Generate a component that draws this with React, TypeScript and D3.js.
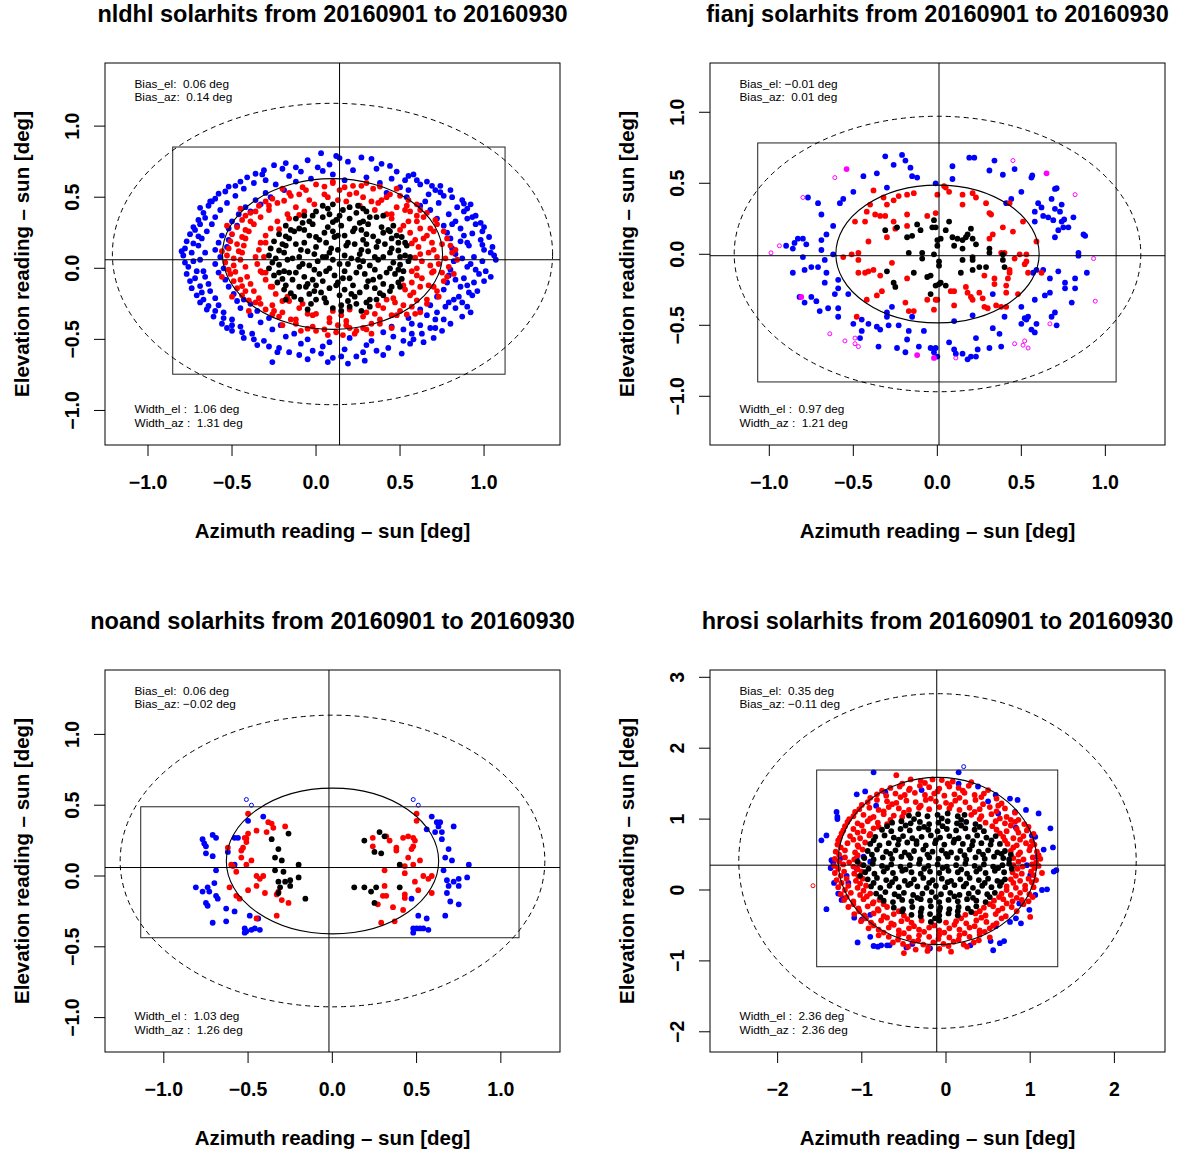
import React from 'react';
import * as d3 from 'd3';

type Pt = [number, number];

const stationNames = ['nldhl', 'fianj', 'noand', 'hrosi'];
const dateFrom = '20160901';
const dateTo = '20160930';
const biasEl = [0.06, -0.01, 0.06, 0.35];
const biasAz = [0.14, 0.01, -0.02, -0.11];
const widthEl = [1.06, 0.97, 1.03, 2.36];
const widthAz = [1.31, 1.21, 1.26, 2.36];
const xDomains: Pt[] = [[-1.256, 1.452], [-1.353, 1.355], [-1.349, 1.351], [-2.803, 2.601]];
const yDomains: Pt[] = [[-1.243, 1.444], [-1.343, 1.347], [-1.243, 1.455], [-2.285, 3.103]];
const scanAz: Pt[] = [[-0.853, 1.125], [-1.069, 1.064], [-1.137, 1.108], [-1.536, 1.327]];
const scanEl: Pt[] = [[-0.745, 0.853], [-0.899, 0.784], [-0.436, 0.489], [-1.082, 1.692]];
const xTicks = [[-1, -0.5, 0, 0.5, 1], [-1, -0.5, 0, 0.5, 1], [-1, -0.5, 0, 0.5, 1], [-2, -1, 0, 1, 2]];
const yTicks = [[-1, -0.5, 0, 0.5, 1], [-1, -0.5, 0, 0.5, 1], [-1, -0.5, 0, 0.5, 1], [-2, -1, 0, 1, 2, 3]];
const tickDigits = [1, 1, 1, 0];
const xLabel = 'Azimuth reading \u2013 sun [deg]';
const yLabel = 'Elevation reading \u2013 sun [deg]';

// ---------- nldhl ----------
const nldhlBlue: Pt[] = [
[0.03,0.81],[0.27,0.78],[0.12,0.79],
[-0.18,0.74],[-0.05,0.76],[0.08,0.73],[0.19,0.75],[0.33,0.77],[0.44,0.72],[-0.12,0.71],
[-0.31,0.69],[-0.2,0.7],[-0.09,0.68],[0.01,0.71],[0.22,0.69],[0.36,0.7],[0.48,0.68],[0.58,0.66],
[-0.41,0.64],[-0.3,0.62],[-0.16,0.65],[-0.03,0.63],[0.1,0.66],[0.17,0.62],[0.3,0.64],[0.45,0.63],[0.55,0.65],[0.66,0.61],
[-0.48,0.58],[-0.37,0.6],[-0.24,0.59],[-0.12,0.61],[0.38,0.6],[0.5,0.57],[0.62,0.59],[0.74,0.58],
[-0.54,0.54],[-0.43,0.56],[-0.3,0.53],[-0.19,0.55],[0.42,0.53],[0.55,0.55],[0.67,0.52],[0.8,0.55],
[-0.6,0.49],[-0.48,0.51],[-0.36,0.48],[-0.27,0.5],[0.54,0.5],[0.65,0.47],[0.76,0.51],[0.87,0.48],
[-0.64,0.44],[-0.53,0.46],[-0.42,0.43],[-0.33,0.45],[0.62,0.44],[0.73,0.46],[0.84,0.43],[0.92,0.45],
[-0.67,0.39],[-0.57,0.41],[-0.46,0.38],[-0.39,0.4],[0.68,0.41],[0.79,0.38],[0.88,0.4],[0.95,0.37],
[-0.7,0.34],[-0.6,0.36],[-0.5,0.33],[0.72,0.35],[0.83,0.33],[0.93,0.36],[0.98,0.32],
[-0.73,0.29],[-0.62,0.31],[-0.52,0.28],[-0.47,0.3],[0.76,0.3],[0.86,0.28],[0.95,0.31],
[-0.75,0.24],[-0.65,0.26],[-0.56,0.23],[0.78,0.25],[0.88,0.23],[0.99,0.26],[1.03,0.22],
[-0.77,0.19],[-0.68,0.21],[-0.58,0.18],[-0.52,0.2],[0.8,0.21],[0.9,0.18],[0.98,0.2],
[-0.78,0.14],[-0.7,0.16],[-0.6,0.13],[-0.53,0.15],[0.81,0.14],[0.91,0.16],[1.0,0.13],[1.05,0.15],
[-0.79,0.09],[-0.66,0.11],[-0.57,0.08],[0.83,0.1],[0.94,0.08],[1.04,0.11],
[-0.78,0.04],[-0.69,0.06],[-0.6,0.03],[0.82,0.05],[0.92,0.03],[1.07,0.06],[0.99,0.05],
[-0.76,0.01],[-0.67,-0.02],[-0.55,0.0],[0.8,-0.01],[0.9,0.01],[1.01,-0.02],
[-0.77,-0.04],[-0.66,-0.06],[-0.58,-0.03],[0.79,-0.05],[0.88,-0.07],[0.97,-0.04],[1.04,-0.06],
[-0.75,-0.09],[-0.64,-0.11],[-0.54,-0.08],[0.78,-0.1],[0.9,-0.12],[1.0,-0.09],
[-0.74,-0.14],[-0.63,-0.16],[-0.52,-0.13],[0.76,-0.15],[0.86,-0.13],[0.96,-0.16],
[-0.71,-0.19],[-0.6,-0.21],[-0.49,-0.18],[-0.43,-0.22],[0.72,-0.2],[0.82,-0.22],[0.93,-0.19],
[-0.69,-0.24],[-0.58,-0.26],[-0.47,-0.23],[-0.39,-0.25],[0.68,-0.26],[0.79,-0.24],[0.9,-0.27],
[-0.65,-0.29],[-0.55,-0.31],[-0.45,-0.28],[-0.35,-0.3],[0.62,-0.29],[0.72,-0.31],[0.83,-0.28],[0.92,-0.31],
[-0.61,-0.34],[-0.5,-0.36],[-0.39,-0.33],[-0.28,-0.35],[0.55,-0.35],[0.66,-0.33],[0.76,-0.36],[0.87,-0.34],
[-0.56,-0.39],[-0.45,-0.41],[-0.33,-0.38],[-0.21,-0.4],[0.45,-0.41],[0.57,-0.39],[0.68,-0.42],[0.8,-0.39],
[-0.5,-0.44],[-0.38,-0.46],[-0.26,-0.43],[-0.13,-0.46],[0.4,-0.45],[0.52,-0.43],[0.63,-0.46],[0.75,-0.44],
[-0.43,-0.49],[-0.31,-0.51],[-0.18,-0.48],[-0.05,-0.5],[0.08,-0.52],[0.2,-0.49],[0.33,-0.51],[0.46,-0.48],[0.58,-0.5],[0.7,-0.49],
[-0.35,-0.54],[-0.22,-0.56],[-0.09,-0.53],[0.04,-0.55],[0.17,-0.57],[0.3,-0.54],[0.43,-0.56],[0.56,-0.53],
[-0.23,-0.59],[-0.1,-0.61],[0.03,-0.6],[0.15,-0.62],[0.28,-0.59],[0.4,-0.61],[0.51,-0.6],
[-0.05,-0.64],[0.07,-0.66],[0.19,-0.67],[0.29,-0.65],[-0.26,-0.66],
[-0.63,0.47],[0.9,0.42],[-0.72,0.27],[1.0,0.29],[-0.8,0.12],[1.06,0.09],[-0.72,-0.07],[0.94,-0.1],
[-0.67,-0.22],[0.87,-0.24],[-0.53,-0.42],[0.71,-0.42],[-0.32,0.66],[0.6,0.62],[-0.45,0.61],[0.71,0.55],
[-0.25,0.725],[0.14,0.775],[0.39,0.735],[-0.36,0.665],[0.04,0.685],[0.53,0.62],
[-0.52,0.575],[0.69,0.58],[-0.58,0.525],[0.74,0.535],[-0.62,0.47],[0.81,0.5],
[-0.69,0.425],[0.88,0.455],[-0.66,0.355],[0.9,0.35],[-0.69,0.31],[0.81,0.31],
[-0.7,0.225],[0.93,0.245],[-0.73,0.175],[0.86,0.19],[-0.74,0.11],[0.99,0.165],
[-0.73,0.05],[0.87,0.07],[-0.71,-0.02],[0.95,-0.01],[-0.69,-0.125],[0.83,-0.08],
[-0.68,-0.17],[0.91,-0.17],[-0.64,-0.265],[0.85,-0.2],[-0.6,-0.3],[0.77,-0.27],
[-0.55,-0.35],[0.71,-0.36],[-0.5,-0.4],[0.62,-0.4],[-0.44,-0.45],[0.57,-0.46],
[-0.37,-0.5],[0.52,-0.51],[-0.28,-0.55],[0.64,-0.52],[-0.16,-0.59],[0.36,-0.58],[-0.02,-0.58],[0.1,-0.63],[0.24,-0.62]
];
const nldhlRed: Pt[] = [
[0.0,0.59],[0.1,0.6],[0.22,0.58],[0.3,0.6],
[-0.16,0.53],[-0.06,0.55],[0.05,0.52],[0.14,0.55],[0.24,0.53],[0.34,0.56],[0.44,0.52],
[-0.26,0.49],[-0.15,0.51],[-0.04,0.48],[0.07,0.5],[0.18,0.47],[0.28,0.5],[0.39,0.48],[0.5,0.51],
[-0.34,0.44],[-0.23,0.46],[-0.12,0.43],[-0.01,0.45],[0.26,0.44],[0.37,0.46],[0.48,0.43],[0.6,0.45],
[-0.39,0.39],[-0.28,0.41],[-0.17,0.38],[-0.07,0.4],[0.35,0.41],[0.45,0.38],[0.56,0.4],[0.66,0.39],
[-0.44,0.34],[-0.33,0.36],[-0.23,0.33],[-0.16,0.35],[0.45,0.35],[0.55,0.33],[0.64,0.36],[0.71,0.34],
[-0.47,0.29],[-0.37,0.31],[-0.27,0.28],[0.52,0.3],[0.62,0.28],[0.72,0.31],
[-0.5,0.24],[-0.4,0.26],[-0.3,0.23],[0.56,0.25],[0.66,0.23],[0.76,0.26],
[-0.51,0.19],[-0.42,0.21],[-0.33,0.18],[0.59,0.2],[0.69,0.18],[0.78,0.21],
[-0.52,0.14],[-0.43,0.16],[-0.34,0.13],[0.61,0.15],[0.7,0.13],[0.8,0.16],
[-0.53,0.09],[-0.44,0.11],[-0.36,0.08],[0.62,0.1],[0.72,0.08],[0.81,0.11],
[-0.54,0.04],[-0.45,0.06],[-0.35,0.03],[0.63,0.05],[0.73,0.03],[0.84,0.06],
[-0.52,-0.01],[-0.42,0.01],[-0.33,-0.02],[0.6,0.0],[0.7,-0.02],[0.79,0.01],
[-0.51,-0.04],[-0.41,-0.06],[-0.32,-0.03],[0.6,-0.05],[0.69,-0.03],[0.78,-0.06],
[-0.49,-0.09],[-0.39,-0.11],[-0.3,-0.08],[0.57,-0.1],[0.67,-0.12],[0.76,-0.09],
[-0.47,-0.14],[-0.37,-0.16],[-0.27,-0.13],[0.53,-0.15],[0.62,-0.13],[0.72,-0.16],
[-0.44,-0.19],[-0.34,-0.21],[-0.24,-0.18],[-0.17,-0.2],[0.46,-0.21],[0.56,-0.19],[0.66,-0.22],
[-0.36,-0.24],[-0.26,-0.26],[-0.16,-0.23],[-0.08,-0.25],[0.37,-0.26],[0.47,-0.24],[0.57,-0.27],[0.66,-0.25],
[-0.3,-0.29],[-0.2,-0.31],[-0.1,-0.28],[0.0,-0.32],[0.1,-0.3],[0.2,-0.29],[0.3,-0.31],[0.4,-0.28],[0.5,-0.3],[0.59,-0.32],
[-0.22,-0.34],[-0.12,-0.36],[-0.02,-0.33],[0.08,-0.35],[0.18,-0.37],[0.28,-0.34],[0.38,-0.36],[0.48,-0.33],
[-0.12,-0.39],[-0.02,-0.41],[0.08,-0.38],[0.18,-0.4],[0.28,-0.42],[0.38,-0.39],
[0.0,-0.44],[0.12,-0.45],[0.24,-0.44],[0.33,-0.46],
[0.05,0.575],[0.17,0.57],[0.27,0.58],[-0.08,0.57],[0.38,0.575],
[-0.3,0.47],[-0.19,0.475],[0.13,0.48],[0.33,0.47],[0.55,0.48],
[-0.42,0.37],[-0.1,0.375],[0.42,0.38],[0.6,0.37],
[-0.42,0.27],[-0.22,0.275],[0.5,0.27],[0.68,0.28],
[-0.47,0.17],[-0.3,0.18],[0.57,0.175],[0.75,0.17],
[-0.49,0.07],[-0.31,0.08],[0.59,0.075],[0.77,0.07],
[-0.48,-0.025],[-0.3,-0.03],[0.57,-0.02],[0.75,-0.03],
[-0.44,-0.125],[-0.26,-0.13],[0.52,-0.12],[0.7,-0.13],
[-0.4,-0.225],[-0.2,-0.23],[0.42,-0.22],[0.6,-0.225],
[-0.26,-0.325],[-0.05,-0.32],[0.15,-0.33],[0.35,-0.32],[0.54,-0.325],
[-0.05,-0.425],[0.05,-0.43],[0.2,-0.42],[0.3,-0.43],
[-0.45,0.42],[0.53,0.41],[-0.53,0.3],[0.7,0.26],[-0.56,0.12],[0.83,0.13],[-0.56,-0.06],[0.82,-0.04],
[-0.5,-0.2],[0.73,-0.2],[-0.4,-0.3],[0.62,-0.31],[-0.2,-0.4],[0.45,-0.42],[0.16,-0.47],[-0.2,0.56],[0.48,0.56],[0.1,0.61],
[-0.1,0.52],[0.2,0.52],[0.42,0.5],[-0.28,0.44],[0.54,0.44],[-0.36,0.4],[0.62,0.41],[-0.39,0.33],[0.6,0.33],[-0.44,0.22],
[0.64,0.21],[-0.46,0.12],[0.67,0.11],[-0.49,0.02],[0.68,0.02],[-0.45,-0.08],[0.63,-0.07],[-0.42,-0.16],[0.58,-0.17],[-0.33,-0.25],
[0.52,-0.26],[-0.25,-0.3],[0.45,-0.33],[-0.15,-0.36],[0.33,-0.39],[0.13,-0.4],[0.23,-0.46],[-0.09,-0.44],[0.07,-0.47]
];
const nldhlBlack: Pt[] = [
[0.1,0.45],[0.2,0.43],
[0.0,0.4],[0.08,0.38],[0.16,0.41],[0.24,0.39],[0.3,0.4],
[-0.12,0.35],[-0.04,0.33],[0.04,0.36],[0.12,0.34],[0.2,0.35],[0.28,0.33],[0.36,0.36],
[-0.18,0.3],[-0.1,0.28],[-0.02,0.31],[0.07,0.29],[0.15,0.3],[0.23,0.28],[0.31,0.31],[0.39,0.29],[0.46,0.3],
[-0.22,0.24],[-0.13,0.26],[-0.04,0.23],[0.05,0.25],[0.13,0.23],[0.22,0.26],[0.3,0.24],[0.4,0.25],[0.48,0.23],
[-0.25,0.19],[-0.16,0.21],[-0.07,0.18],[0.02,0.2],[0.11,0.22],[0.19,0.18],[0.28,0.2],[0.37,0.19],[0.45,0.21],[0.53,0.18],
[-0.27,0.14],[-0.18,0.16],[-0.09,0.13],[0.0,0.15],[0.09,0.14],[0.18,0.16],[0.27,0.13],[0.36,0.15],[0.45,0.14],[0.54,0.16],
[-0.28,0.09],[-0.19,0.11],[-0.1,0.08],[-0.01,0.1],[0.08,0.11],[0.17,0.09],[0.26,0.1],[0.35,0.08],[0.44,0.11],[0.53,0.09],
[-0.26,0.04],[-0.17,0.06],[-0.08,0.03],[0.01,0.05],[0.1,0.06],[0.19,0.03],[0.28,0.05],[0.37,0.06],[0.46,0.04],[0.55,0.05],
[-0.28,0.0],[-0.19,-0.02],[-0.1,0.01],[-0.01,-0.01],[0.08,0.0],[0.17,-0.02],[0.26,0.01],[0.35,-0.01],[0.44,0.0],[0.52,-0.02],
[-0.25,-0.05],[-0.16,-0.03],[-0.07,-0.06],[0.02,-0.04],[0.11,-0.05],[0.2,-0.07],[0.29,-0.04],[0.38,-0.06],[0.47,-0.04],
[-0.23,-0.1],[-0.14,-0.08],[-0.05,-0.11],[0.04,-0.09],[0.13,-0.1],[0.22,-0.12],[0.31,-0.09],[0.4,-0.11],[0.49,-0.1],
[-0.19,-0.15],[-0.1,-0.13],[-0.01,-0.16],[0.08,-0.14],[0.17,-0.15],[0.26,-0.17],[0.35,-0.14],[0.44,-0.16],
[-0.13,-0.2],[-0.04,-0.18],[0.05,-0.21],[0.14,-0.19],[0.23,-0.2],[0.32,-0.22],[0.4,-0.19],
[-0.03,-0.25],[0.06,-0.24],[0.15,-0.26],[0.24,-0.25],[0.32,-0.27],
[-0.08,0.32],[0.1,0.325],[0.26,0.32],
[-0.18,0.225],[0.0,0.22],[0.17,0.23],[0.34,0.225],[0.51,0.22],
[-0.22,0.125],[-0.05,0.12],[0.13,0.13],[0.31,0.12],[0.49,0.125],
[-0.22,0.025],[-0.04,0.02],[0.14,0.03],[0.32,0.02],[0.5,0.025],
[-0.2,-0.075],[-0.02,-0.08],[0.16,-0.07],[0.34,-0.08],[0.51,-0.075],
[-0.15,-0.175],[0.03,-0.17],[0.21,-0.18],[0.38,-0.175],
[0.1,-0.28],[0.2,-0.27],
[0.04,0.44],[0.25,0.44],[-0.02,0.37],[0.32,0.36],[-0.15,0.27],[0.43,0.27],[-0.2,0.17],[0.49,0.18],[-0.24,0.07],[0.5,0.08],
[-0.22,-0.03],[0.42,-0.03],[-0.18,-0.12],[0.45,-0.13],[-0.09,-0.22],[0.3,-0.24],[0.0,-0.12],[0.25,0.06],[0.06,0.08],[0.3,0.17],
[0.07,0.42],[0.28,0.42],[-0.07,0.37],[0.14,0.37],[0.4,0.37],[-0.07,0.27],[0.1,0.26],[0.27,0.27],[0.44,0.26],
[-0.12,0.17],[0.06,0.18],[0.23,0.17],[0.41,0.17],[-0.14,0.07],[0.04,0.08],[0.21,0.07],[0.4,0.08],[0.56,0.08],
[-0.12,-0.03],[0.06,-0.02],[0.24,-0.03],[0.49,-0.01],[-0.06,-0.13],[0.12,-0.12],[0.3,-0.13],[0.5,-0.13],
[-0.18,-0.22],[0.0,-0.22],[0.19,-0.23],[0.36,-0.22],[-0.05,-0.29],[0.27,-0.3],[0.15,-0.3]
];

// ---------- fianj ----------
const fianjBlue: Pt[] = [
[-0.31,0.69],[-0.21,0.7],[-0.19,0.66],[-0.26,0.63],[-0.16,0.61],[-0.15,0.55],[-0.12,0.54],[-0.36,0.57],[-0.44,0.55],[-0.3,0.47],
[-0.5,0.44],[-0.56,0.39],[-0.58,0.36],[-0.77,0.4],[-0.71,0.36],[-0.69,0.28],[-0.62,0.2],[-0.66,0.14],[-0.69,0.1],[-0.69,0.03],
[-0.9,0.06],[-0.85,0.08],[-0.83,0.11],[-0.8,0.11],[-0.78,0.07],[-0.86,0.04],[-0.8,-0.02],[-0.79,-0.11],[-0.75,-0.09],[-0.71,-0.09],
[-0.86,-0.13],[-0.62,0.0],[-0.67,-0.04],[-0.66,-0.13],[-0.67,-0.2],[-0.59,-0.18],[-0.59,-0.24],[-0.61,-0.28],[-0.53,-0.28],[-0.59,-0.38],
[-0.65,-0.38],[-0.59,-0.44],[-0.82,-0.3],[-0.79,-0.34],[-0.75,-0.3],[-0.72,-0.33],[-0.7,-0.4],[-0.5,-0.49],[-0.45,-0.46],[-0.41,-0.49],
[-0.45,-0.54],[-0.46,-0.59],[-0.36,-0.51],[-0.34,-0.53],[-0.29,-0.5],[-0.23,-0.5],[-0.3,-0.44],[-0.35,-0.65],[-0.24,-0.66],[-0.19,-0.69],
[-0.18,-0.6],[-0.17,-0.54],[-0.08,-0.54],[-0.11,-0.65],[-0.3,-0.41],[-0.15,-0.44],[-0.04,-0.66],[-0.02,-0.69],[-0.27,-0.37],
[0.19,0.68],[0.22,0.68],[0.09,0.62],[0.34,0.66],[0.31,0.59],[0.39,0.56],[0.46,0.6],[0.56,0.54],[0.565,0.555],[0.09,0.53],
[0.7,0.46],[0.71,0.465],[0.5,0.44],[0.44,0.39],[0.6,0.36],[0.62,0.33],[0.58,0.3],[0.58,0.23],[0.63,0.27],[0.66,0.26],
[0.69,0.24],[0.68,0.39],[0.7,0.32],[0.74,0.35],[0.73,0.3],[0.74,0.23],[0.755,0.245],[0.81,0.26],[0.72,0.17],[0.75,0.19],
[0.78,0.19],[0.7,0.12],[0.87,0.14],[0.88,0.13],[0.84,0.01],[0.84,-0.01],[0.89,-0.13],[0.57,-0.13],[0.63,-0.11],[0.67,-0.17],
[0.72,-0.12],[0.76,-0.2],[0.76,-0.24],[0.82,-0.17],[0.82,-0.24],[0.8,-0.34],[0.64,-0.29],[0.67,-0.27],[0.58,-0.32],[0.5,-0.37],
[0.54,-0.44],[0.53,-0.46],[0.5,-0.49],[0.52,-0.45],[0.56,-0.53],[0.58,-0.55],[0.59,-0.49],[0.68,-0.44],[0.7,-0.41],[0.71,-0.5],
[0.4,-0.44],[0.33,-0.52],[0.37,-0.56],[0.33,-0.28],[0.23,-0.59],[0.24,-0.67],[0.23,-0.72],[0.2,-0.72],[0.18,-0.74],[0.15,-0.7],
[0.1,-0.67],[0.11,-0.7],[0.07,-0.62],[0.31,-0.66],[0.38,-0.65],[0.21,-0.43],[0.1,-0.47],[-0.01,0.5],[0.41,0.36],[0.59,-0.11],
[-0.01,-0.66],[0.0,-0.72]
];
const fianjRed: Pt[] = [
[-0.38,0.45],[-0.4,0.35],[-0.32,0.4],[-0.23,0.41],[-0.18,0.42],[-0.14,0.43],[-0.3,0.35],[-0.26,0.38],[-0.42,0.3],[-0.37,0.28],
[-0.34,0.27],[-0.31,0.27],[-0.43,0.23],[-0.49,0.23],[-0.26,0.23],[-0.25,0.18],[-0.3,0.12],[-0.41,0.09],[-0.18,0.28],[-0.06,0.27],
[-0.18,0.2],[-0.01,0.29],[-0.56,-0.02],[-0.51,0.0],[-0.47,0.01],[-0.47,-0.04],[-0.47,-0.13],[-0.43,-0.13],[-0.41,-0.12],[-0.38,-0.11],
[-0.34,-0.15],[-0.27,-0.06],[-0.18,-0.17],[-0.33,-0.26],[-0.36,-0.29],[-0.42,-0.32],[-0.19,-0.34],[-0.17,-0.4],[-0.14,-0.4],[-0.06,-0.32],
[0.0,-0.32],[-0.48,-0.44],
[0.04,0.48],[0.05,0.47],[0.07,0.44],[0.0,0.42],[0.15,0.42],[0.15,0.35],[0.21,0.43],[0.23,0.4],[0.29,0.36],[0.31,0.29],
[0.32,0.28],[0.43,0.36],[0.51,0.23],[0.39,0.19],[0.45,0.16],[0.33,0.14],[0.31,0.11],[0.59,0.09],[0.38,0.01],[0.4,0.01],
[0.49,0.0],[0.53,0.0],[0.46,-0.03],[0.53,-0.05],[0.52,-0.07],[0.43,-0.11],[0.43,-0.13],[0.28,-0.15],[0.34,-0.17],[0.34,-0.21],
[0.42,-0.17],[0.41,-0.22],[0.17,-0.23],[0.41,-0.27],[0.48,-0.28],[0.54,-0.13],[0.62,-0.13],[0.08,-0.26],[0.1,-0.26],[0.1,-0.36],
[0.18,-0.27],[0.2,-0.3],[0.21,-0.32],[0.25,-0.27],[0.27,-0.31],[0.28,-0.37],[0.3,-0.38],[0.35,-0.36],[0.38,-0.37],[0.41,-0.37],
[-0.01,-0.32],[-0.02,-0.39]
];
const fianjBlack: Pt[] = [
[-0.31,0.17],[-0.24,0.19],[-0.18,0.12],[-0.15,0.13],[-0.12,0.21],[-0.1,0.17],[-0.03,0.19],[0.0,0.1],[-0.17,0.01],[-0.09,0.01],
[-0.09,-0.03],[-0.3,-0.12],[-0.14,-0.13],[-0.06,-0.16],[-0.26,-0.2],[-0.25,-0.23],[-0.04,-0.28],[-0.01,-0.22],[0.0,0.06],[0.01,-0.05],
[0.02,-0.2],[-0.02,0.24],[-0.01,0.19],[0.07,0.23],[0.05,0.17],[0.02,0.11],[0.09,0.12],[0.12,0.11],[0.15,0.1],[0.17,0.12],
[0.18,0.14],[0.2,0.18],[0.21,0.11],[0.23,0.07],[0.1,0.06],[0.15,0.04],[0.31,0.04],[0.31,0.01],[0.39,0.0],[0.39,-0.04],
[0.15,-0.04],[0.21,-0.02],[0.21,-0.04],[0.25,-0.09],[0.29,-0.09],[0.21,-0.11],[0.14,-0.13],[0.4,-0.09],[0.01,-0.21],[0.05,-0.22],
[-0.04,-0.15],[-0.02,0.0],[0.01,-0.08]
];
const fianjMagentaOpen: Pt[] = [
[-0.61,0.54],[-0.8,0.4],[-0.94,0.06],[-0.99,0.01],[-0.64,-0.56],[-0.55,-0.61],[-0.49,-0.59],[-0.49,-0.63],[-0.47,-0.65],[0.45,0.66],
[0.82,0.42],[0.93,-0.03],[0.94,-0.33],[0.67,-0.49],[0.46,-0.63],[0.52,-0.61],[0.51,-0.64],[0.54,-0.66],[0.11,-0.73]
];
const fianjMagentaFilled: Pt[] = [[-0.54,0.6],[-0.12,-0.71],[-0.02,-0.73],[0.65,0.57],[-0.81,-0.3]];

// ---------- noand ----------
const noandBlue: Pt[] = [
[-0.77,0.26],[-0.76,0.23],[-0.75,0.21],[-0.71,0.29],[-0.69,0.27],[-0.75,0.16],[-0.71,0.14],[-0.69,0.04],[-0.7,-0.05],[-0.81,-0.08],
[-0.77,-0.11],[-0.74,-0.08],[-0.73,-0.11],[-0.69,-0.14],[-0.68,-0.16],[-0.75,-0.19],[-0.74,-0.21],[-0.63,-0.23],[-0.58,-0.25],[-0.71,-0.33],
[-0.63,-0.32],[-0.49,-0.28],[-0.44,-0.3],[-0.52,-0.37],[-0.51,-0.39],[-0.48,-0.38],[-0.46,-0.37],[-0.43,-0.38],[-0.52,-0.4],[-0.58,0.27],
[-0.56,0.27],[-0.62,0.17],[-0.5,0.39],[-0.41,0.42],[-0.58,0.08],
[0.59,0.42],[0.62,0.38],[0.64,0.38],[0.63,0.35],[0.65,0.31],[0.72,0.35],[0.56,0.33],[0.61,0.31],[0.65,0.26],[0.69,0.19],
[0.67,0.13],[0.71,0.11],[0.81,0.08],[0.66,0.04],[0.68,-0.03],[0.72,-0.04],[0.75,-0.02],[0.69,-0.07],[0.75,-0.07],[0.8,-0.01],
[0.68,-0.12],[0.7,-0.18],[0.75,-0.2],[0.67,-0.28],[0.47,-0.16],[0.51,-0.28],[0.56,-0.3],[0.48,-0.37],[0.5,-0.37],[0.52,-0.37],
[0.54,-0.37],[0.57,-0.38],[0.48,-0.4]
];
const noandRed: Pt[] = [
[-0.5,0.44],[-0.45,0.32],[-0.38,0.38],[-0.36,0.37],[-0.35,0.34],[-0.39,0.31],[-0.28,0.35],[-0.52,0.27],[-0.51,0.265],[-0.51,0.24],
[-0.53,0.2],[-0.54,0.18],[-0.62,0.2],[-0.54,0.13],[-0.51,0.08],[-0.48,0.11],[-0.6,0.08],[-0.59,0.07],[-0.57,0.03],[-0.45,0.0],
[-0.41,0.0],[-0.43,-0.02],[-0.61,-0.08],[-0.5,-0.1],[-0.45,-0.07],[-0.57,-0.14],[-0.55,-0.16],[-0.4,-0.12],[-0.33,-0.13],[-0.32,-0.11],
[-0.3,-0.17],[-0.26,-0.19],[-0.33,-0.28],[-0.45,-0.3],[-0.5,0.3],
[0.24,0.27],[0.24,0.21],[0.34,0.25],[0.38,0.2],[0.32,0.28],[0.42,0.27],[0.45,0.28],[0.48,0.27],[0.49,0.25],[0.48,0.21],
[0.47,0.19],[0.38,0.18],[0.45,0.13],[0.48,0.08],[0.52,0.11],[0.43,0.07],[0.31,0.04],[0.43,0.02],[0.31,-0.07],[0.3,-0.14],
[0.54,0.0],[0.57,-0.02],[0.59,0.0],[0.49,-0.04],[0.51,-0.1],[0.43,-0.13],[0.43,-0.155],[0.36,-0.22],[0.42,-0.24],[0.32,-0.14],
[0.27,-0.2],[0.29,-0.33],[0.37,-0.32],[0.59,-0.12],[0.5,0.44],[0.5,0.39]
];
const noandBlack: Pt[] = [
[-0.36,0.26],[-0.32,0.19],[-0.34,0.13],[-0.3,0.11],[-0.26,0.3],[-0.2,0.08],[-0.34,0.04],[-0.29,0.03],[-0.32,-0.04],[-0.28,-0.04],
[-0.25,-0.03],[-0.2,-0.01],[-0.31,-0.08],[-0.25,-0.07],[-0.32,-0.12],[-0.16,-0.16],
[0.19,0.25],[0.28,0.31],[0.31,0.28],[0.25,0.17],[0.29,0.16],[0.4,0.08],[0.13,-0.08],[0.19,-0.08],[0.26,-0.08],[0.23,-0.11],
[0.4,-0.08],[0.25,-0.19]
];
const noandBlueOpen: Pt[] = [[-0.51,0.54],[-0.48,0.5],[0.48,0.54],[0.51,0.5]];

// ---------- hrosi ----------
const hrosiBlue: Pt[] = [
[-0.86,1.66],[0.15,1.66],[0.15,1.5],[0.38,1.46],[0.5,1.25],[0.59,1.34],[0.76,1.29],[0.85,1.27],[0.62,1.08],[0.82,1.1],
[0.95,1.13],[1.1,1.08],[0.83,0.88],[1.24,0.87],[1.06,0.75],[1.02,0.77],[1.16,0.57],[1.27,0.6],[1.08,0.47],[0.96,0.35],
[1.31,0.28],[1.28,0.26],[1.0,0.21],[1.2,0.01],[1.14,0.0],[1.06,-0.07],[0.87,-0.19],[0.99,-0.28],[0.83,-0.4],[0.76,-0.45],
[0.89,-0.47],[0.59,-0.51],[0.4,-0.59],[0.53,-0.72],[0.69,-0.72],[0.64,-0.75],[0.56,-0.85],[0.29,-0.78],[-0.19,-0.82],
[-0.72,1.38],[-0.96,1.39],[-1.06,1.35],[-0.29,1.41],[-0.83,1.19],[-1.3,1.1],[-1.29,1.03],[-1.29,1.0],[-1.42,0.77],[-1.48,0.7],
[-1.25,0.45],[-1.36,0.42],[-1.34,0.38],[-1.37,0.31],[-1.06,0.45],[-1.06,0.3],[-1.18,0.2],[-1.16,0.1],[-1.33,0.1],[-1.28,-0.05],
[-1.24,-0.14],[-1.22,-0.12],[-1.42,-0.27],[-1.09,-0.39],[-1.0,-0.42],[-0.9,-0.35],[-1.05,-0.74],[-0.9,-0.66],[-0.86,-0.79],[-0.81,-0.8],
[-0.77,-0.78],[-0.7,-0.78],[-0.67,-0.78],[-0.47,-0.81],[-0.4,-0.76],[-0.2,-0.83],[-0.98,0.47],[-0.9,0.4]
];
const hrosiRed: Pt[] = [
[-0.59,1.62],[-0.16,1.56],
[-0.42,1.56],[-0.3,1.54],[-0.05,1.55],[0.08,1.53],
[-0.66,1.44],[-0.55,1.46],[-0.43,1.43],[-0.31,1.47],[-0.2,1.45],[-0.08,1.43],[0.04,1.46],[0.15,1.44],[0.27,1.47],
[-0.82,1.35],[-0.71,1.33],[-0.6,1.36],[-0.49,1.34],[-0.37,1.37],[-0.25,1.34],[-0.14,1.36],[-0.02,1.33],[0.1,1.35],[0.22,1.37],[0.34,1.34],[0.45,1.36],
[-0.93,1.24],[-0.82,1.27],[-0.7,1.25],[-0.59,1.23],[-0.47,1.26],[-0.36,1.24],[-0.24,1.27],[-0.12,1.25],[0.0,1.23],[0.11,1.26],[0.23,1.24],[0.35,1.27],[0.66,1.22],
[-1.03,1.14],[-0.91,1.16],[-0.8,1.13],[-0.68,1.17],[-0.56,1.15],[-0.44,1.13],[-0.32,1.16],[-0.2,1.14],[-0.08,1.17],[0.04,1.15],[0.16,1.13],[0.28,1.16],[0.4,1.14],[0.52,1.17],[0.7,1.15],
[-1.1,1.04],[-0.98,1.06],[-0.86,1.03],[-0.74,1.07],[-0.62,1.05],[-0.52,1.03],[0.3,1.06],[0.42,1.04],[0.54,1.07],[0.72,1.03],[0.77,0.99],
[-1.17,0.96],[-1.05,0.94],[-0.93,0.97],[-0.81,0.95],[-0.7,0.93],[0.47,0.95],[0.59,0.97],[0.7,0.94],[0.82,0.96],[0.93,0.93],
[-1.22,0.84],[-1.1,0.86],[-0.98,0.83],[-0.86,0.87],[0.6,0.85],[0.72,0.83],[0.84,0.86],[0.96,0.84],
[-1.26,0.74],[-1.14,0.76],[-1.02,0.73],[-0.91,0.77],[0.68,0.75],[0.8,0.73],[0.92,0.76],[1.02,0.69],
[-1.29,0.64],[-1.17,0.66],[-1.05,0.63],[-0.96,0.67],[0.73,0.65],[0.84,0.63],[0.95,0.66],[1.05,0.64],
[-1.31,0.54],[-1.2,0.56],[-1.08,0.53],[-0.99,0.57],[0.77,0.55],[0.88,0.53],[0.99,0.56],[1.08,0.54],
[-1.32,0.44],[-1.2,0.46],[-1.09,0.43],[0.8,0.45],[0.92,0.43],[1.03,0.46],[1.12,0.44],
[-1.33,0.34],[-1.22,0.36],[-1.1,0.33],[-1.02,0.36],[0.8,0.35],[0.91,0.33],[1.02,0.36],[1.1,0.34],
[-1.32,0.24],[-1.21,0.26],[-1.09,0.23],[-1.0,0.26],[0.79,0.25],[0.9,0.23],[1.01,0.26],[1.14,0.24],
[-1.3,0.14],[-1.18,0.16],[-1.07,0.13],[-0.99,0.16],[0.77,0.15],[0.88,0.13],[0.98,0.16],[1.07,0.14],
[-1.28,0.04],[-1.16,0.06],[-1.05,0.03],[-0.95,0.06],[0.72,0.05],[0.83,0.03],[0.94,0.06],[1.04,0.04],
[-1.25,-0.06],[-1.13,-0.04],[-1.02,-0.07],[-0.9,-0.05],[0.66,-0.05],[0.77,-0.07],[0.88,-0.04],[0.99,-0.06],
[-1.21,-0.14],[-1.1,-0.16],[-0.98,-0.13],[-0.86,-0.17],[-0.79,-0.14],[0.57,-0.15],[0.68,-0.13],[0.79,-0.16],[0.9,-0.14],[0.98,-0.16],
[-1.16,-0.24],[-1.04,-0.26],[-0.93,-0.23],[-0.81,-0.27],[-0.7,-0.24],[0.45,-0.25],[0.56,-0.23],[0.67,-0.26],[0.78,-0.24],[1.0,-0.38],
[-1.09,-0.34],[-0.97,-0.36],[-0.86,-0.33],[-0.74,-0.37],[-0.62,-0.34],[-0.5,-0.36],[0.23,-0.35],[0.35,-0.33],[0.47,-0.36],[0.59,-0.34],[0.71,-0.37],
[-1.01,-0.44],[-0.89,-0.46],[-0.77,-0.43],[-0.65,-0.47],[-0.53,-0.44],[-0.41,-0.46],[-0.29,-0.43],[0.0,-0.46],[0.12,-0.44],[0.24,-0.47],[0.36,-0.43],[0.48,-0.45],[0.6,-0.47],
[-0.92,-0.54],[-0.8,-0.56],[-0.68,-0.53],[-0.56,-0.57],[-0.44,-0.54],[-0.32,-0.56],[-0.2,-0.53],[-0.08,-0.57],[0.04,-0.54],[0.16,-0.56],[0.28,-0.53],[0.4,-0.57],[0.52,-0.54],
[-0.8,-0.64],[-0.68,-0.66],[-0.56,-0.63],[-0.44,-0.67],[-0.32,-0.64],[-0.2,-0.66],[-0.08,-0.63],[0.04,-0.67],[0.16,-0.64],[0.28,-0.66],[0.4,-0.63],[0.52,-0.67],
[-0.63,-0.74],[-0.51,-0.76],[-0.39,-0.73],[-0.27,-0.77],[-0.15,-0.74],[-0.03,-0.76],[0.09,-0.73],[0.21,-0.77],[0.33,-0.74],
[-0.36,-0.84],[-0.22,-0.86],[-0.08,-0.83],[0.06,-0.87],[-0.5,-0.89],
[-0.52,1.5],[-0.25,1.51],[0.02,1.5],[0.3,1.52],
[-0.76,1.4],[-0.44,1.41],[-0.1,1.39],[0.2,1.4],[0.5,1.41],
[-0.9,1.3],[-0.54,1.31],[-0.18,1.29],[0.16,1.3],[0.42,1.31],[0.6,1.29],
[-1.0,1.2],[-0.64,1.21],[-0.3,1.19],[0.06,1.2],[0.44,1.21],[0.62,1.19],
[-1.08,1.1],[-0.74,1.11],[-0.5,1.09],[0.34,1.1],[0.6,1.11],[0.82,1.09],
[-1.15,1.0],[-0.9,1.01],[-0.66,0.99],[0.4,1.0],[0.64,1.01],[0.86,0.99],
[-1.2,0.9],[-1.0,0.91],[-0.8,0.89],[0.55,0.9],[0.77,0.91],[0.98,0.89],
[-1.24,0.8],[-1.05,0.81],[-0.9,0.79],[0.64,0.8],[0.86,0.81],[1.04,0.79],
[-1.28,0.7],[-1.1,0.71],[0.7,0.7],[0.88,0.71],
[-1.25,0.6],[-1.04,0.61],[0.8,0.6],[1.0,0.61],
[-1.27,0.5],[-1.05,0.49],[0.86,0.5],[1.1,0.49],
[-1.27,0.4],[-1.15,0.39],[0.86,0.4],[1.07,0.39],
[-1.28,0.3],[-1.05,0.29],[0.85,0.3],[1.05,0.31],
[-1.25,0.2],[-1.04,0.19],[0.83,0.2],[1.04,0.21],
[-1.24,0.1],[-1.02,0.09],[0.8,0.1],[1.02,0.11],
[-1.2,0.0],[-0.98,-0.01],[0.72,0.0],[0.94,0.01],
[-1.18,-0.1],[-0.94,-0.09],[0.63,-0.1],[0.84,-0.11],[1.03,-0.1],
[-1.1,-0.2],[-0.87,-0.19],[-0.74,-0.2],[0.52,-0.2],[0.72,-0.19],[0.92,-0.2],
[-1.03,-0.3],[-0.8,-0.29],[-0.56,-0.3],[0.4,-0.3],[0.62,-0.29],[0.84,-0.3],
[-0.95,-0.4],[-0.7,-0.39],[-0.46,-0.41],[0.18,-0.4],[0.42,-0.39],[0.66,-0.4],
[-0.86,-0.5],[-0.62,-0.49],[-0.38,-0.51],[-0.14,-0.5],[0.1,-0.49],[0.34,-0.51],[0.56,-0.5],
[-0.74,-0.6],[-0.5,-0.61],[-0.26,-0.59],[-0.02,-0.6],[0.22,-0.61],[0.46,-0.59],
[-0.57,-0.7],[-0.33,-0.71],[-0.09,-0.69],[0.15,-0.7],[0.39,-0.71],
[-0.45,-0.8],[-0.21,-0.81],[0.03,-0.79],[0.25,-0.8]
];
const hrosiBlack: Pt[] = [
[-0.44,1.05],[-0.33,1.07],[-0.22,1.04],[-0.1,1.06],[0.02,1.08],[0.14,1.04],[0.22,1.06],
[-0.64,0.95],[-0.53,0.97],[-0.42,0.94],[-0.31,0.96],[-0.2,0.93],[-0.09,0.95],[0.02,0.97],[0.13,0.94],[0.24,0.96],[0.35,0.93],
[-0.76,0.85],[-0.65,0.83],[-0.54,0.86],[-0.43,0.84],[-0.32,0.87],[-0.21,0.85],[-0.1,0.83],[0.01,0.86],[0.12,0.84],[0.23,0.87],[0.34,0.85],[0.45,0.83],
[-0.84,0.75],[-0.73,0.77],[-0.62,0.74],[-0.51,0.76],[-0.4,0.73],[-0.29,0.75],[-0.18,0.77],[-0.07,0.74],[0.04,0.76],[0.15,0.73],[0.26,0.75],[0.37,0.77],[0.48,0.74],[0.59,0.76],
[-0.9,0.65],[-0.79,0.63],[-0.68,0.66],[-0.57,0.64],[-0.46,0.67],[-0.35,0.65],[-0.24,0.63],[-0.13,0.66],[-0.02,0.64],[0.09,0.67],[0.2,0.65],[0.31,0.63],[0.42,0.66],[0.53,0.64],[0.64,0.65],
[-0.93,0.55],[-0.82,0.57],[-0.71,0.54],[-0.6,0.56],[-0.49,0.53],[-0.38,0.55],[-0.27,0.57],[-0.16,0.54],[-0.05,0.56],[0.06,0.53],[0.17,0.55],[0.28,0.57],[0.39,0.54],[0.5,0.56],[0.61,0.53],[0.7,0.55],
[-0.97,0.45],[-0.86,0.43],[-0.75,0.46],[-0.64,0.44],[-0.53,0.47],[-0.42,0.45],[-0.31,0.43],[-0.2,0.46],[-0.09,0.44],[0.02,0.47],[0.13,0.45],[0.24,0.43],[0.35,0.46],[0.46,0.44],[0.57,0.47],[0.68,0.45],[0.75,0.43],
[-0.98,0.35],[-0.87,0.37],[-0.76,0.34],[-0.65,0.36],[-0.54,0.33],[-0.43,0.35],[-0.32,0.37],[-0.21,0.34],[-0.1,0.36],[0.01,0.33],[0.12,0.35],[0.23,0.37],[0.34,0.34],[0.45,0.36],[0.56,0.33],[0.67,0.35],[0.75,0.37],
[-0.96,0.25],[-0.85,0.23],[-0.74,0.26],[-0.63,0.24],[-0.52,0.27],[-0.41,0.25],[-0.3,0.23],[-0.19,0.26],[-0.08,0.24],[0.03,0.27],[0.14,0.25],[0.25,0.23],[0.36,0.26],[0.47,0.24],[0.58,0.27],[0.69,0.25],
[-0.93,0.15],[-0.82,0.17],[-0.71,0.14],[-0.6,0.16],[-0.49,0.13],[-0.38,0.15],[-0.27,0.17],[-0.16,0.14],[-0.05,0.16],[0.06,0.13],[0.17,0.15],[0.28,0.17],[0.39,0.14],[0.5,0.16],[0.61,0.13],[0.7,0.15],
[-0.89,0.05],[-0.78,0.03],[-0.67,0.06],[-0.56,0.04],[-0.45,0.07],[-0.34,0.05],[-0.23,0.03],[-0.12,0.06],[-0.01,0.04],[0.1,0.07],[0.21,0.05],[0.32,0.03],[0.43,0.06],[0.54,0.04],[0.64,0.06],
[-0.83,-0.05],[-0.72,-0.03],[-0.61,-0.06],[-0.5,-0.04],[-0.39,-0.07],[-0.28,-0.05],[-0.17,-0.03],[-0.06,-0.06],[0.05,-0.04],[0.16,-0.07],[0.27,-0.05],[0.38,-0.03],[0.49,-0.06],[0.58,-0.04],
[-0.74,-0.15],[-0.63,-0.17],[-0.52,-0.14],[-0.41,-0.16],[-0.3,-0.13],[-0.19,-0.15],[-0.08,-0.17],[0.03,-0.14],[0.14,-0.16],[0.25,-0.13],[0.36,-0.15],[0.47,-0.17],
[-0.62,-0.25],[-0.51,-0.27],[-0.4,-0.24],[-0.29,-0.26],[-0.18,-0.23],[-0.07,-0.25],[0.04,-0.27],[0.15,-0.24],[0.26,-0.26],[0.36,-0.23],
[-0.41,-0.35],[-0.3,-0.37],[-0.19,-0.34],[-0.08,-0.36],[0.03,-0.33],[0.14,-0.36],
[-0.18,-0.45],[-0.08,-0.43],[-0.13,-0.4],
[-0.38,1.0],[-0.05,1.01],[0.18,0.99],
[-0.7,0.9],[-0.48,0.91],[-0.26,0.89],[-0.04,0.9],[0.18,0.91],[0.4,0.89],
[-0.86,0.7],[-0.56,0.71],[-0.35,0.69],[-0.12,0.7],[0.1,0.71],[0.32,0.69],[0.54,0.7],
[-0.88,0.5],[-0.66,0.51],[-0.44,0.49],[-0.22,0.5],[0.0,0.51],[0.22,0.49],[0.44,0.5],[0.66,0.51],
[-0.92,0.3],[-0.7,0.31],[-0.48,0.29],[-0.26,0.3],[-0.04,0.31],[0.18,0.29],[0.4,0.3],[0.62,0.31],
[-0.86,0.1],[-0.64,0.11],[-0.42,0.09],[-0.2,0.1],[0.02,0.11],[0.24,0.09],[0.46,0.1],[0.66,0.11],
[-0.78,-0.1],[-0.56,-0.09],[-0.34,-0.11],[-0.12,-0.1],[0.1,-0.09],[0.32,-0.11],[0.52,-0.1],
[-0.52,-0.3],[-0.3,-0.31],[-0.08,-0.29],[0.14,-0.3],[0.3,-0.31],
[-1.05,0.4],[-1.02,0.2],[0.78,0.3],[0.77,0.5]
];
const hrosiBlueOpen: Pt[] = [[0.21, 1.74]];
const hrosiRedOpen: Pt[] = [[-1.58, 0.06]];

const BLUE = '#0000FF';
const RED = '#FF0000';
const BLACK = '#000000';
const MAGENTA = '#FF00FF';

interface Layer { pts: Pt[]; color: string; open?: boolean; }

const panelLayers: Layer[][] = [
  [{ pts: nldhlBlue, color: BLUE }, { pts: nldhlRed, color: RED }, { pts: nldhlBlack, color: BLACK }],
  [{ pts: fianjBlue, color: BLUE }, { pts: fianjRed, color: RED }, { pts: fianjBlack, color: BLACK },
   { pts: fianjMagentaFilled, color: MAGENTA }, { pts: fianjMagentaOpen, color: MAGENTA, open: true }],
  [{ pts: noandBlue, color: BLUE }, { pts: noandRed, color: RED }, { pts: noandBlack, color: BLACK },
   { pts: noandBlueOpen, color: BLUE, open: true }],
  [{ pts: hrosiBlue, color: BLUE }, { pts: hrosiRed, color: RED }, { pts: hrosiBlack, color: BLACK },
   { pts: hrosiBlueOpen, color: BLUE, open: true }, { pts: hrosiRedOpen, color: RED, open: true }],
];

const FONT = '"Liberation Sans", Arial, Helvetica, sans-serif';
const OFFSETS: Pt[] = [[0, 0], [605, 0], [0, 607], [605, 607]];
const BOX = { l: 105, t: 63, w: 455, h: 382 };
const NBSP = '\u00A0';

const minus = (s: string) => s.replace('-', '\u2212');
const fmtSigned = (v: number) => (v < 0 ? '\u2212' : NBSP) + Math.abs(v).toFixed(2);

function Panel({ i }: { i: number }) {
  const x = d3.scaleLinear().domain(xDomains[i]).range([BOX.l, BOX.l + BOX.w]);
  const y = d3.scaleLinear().domain(yDomains[i]).range([BOX.t + BOX.h, BOX.t]);
  const cx = (xDomains[i][0] + xDomains[i][1]) / 2;
  const cy = (yDomains[i][0] + yDomains[i][1]) / 2;
  const ell = (k: number) => ({
    cx: x(cx), cy: y(cy),
    rx: x(cx + widthAz[i] * k) - x(cx),
    ry: y(cy) - y(cy + widthEl[i] * k),
  });
  const e1 = ell(0.5);
  const e2 = ell(1);
  const [ox, oy] = OFFSETS[i];
  const bottom = BOX.t + BOX.h;
  const midX = BOX.l + BOX.w / 2;
  const midY = BOX.t + BOX.h / 2;
  return (
    <g transform={`translate(${ox},${oy})`}>
      <text x={midX} y={22} textAnchor="middle" fontFamily={FONT} fontWeight="bold" fontSize={23.5}>
        {`${stationNames[i]} solarhits from ${dateFrom} to ${dateTo}`}
      </text>
      {panelLayers[i].map((layer, li) => (
        <g key={li}>
          {layer.pts.map((p, pi) => layer.open ? (
            <circle key={pi} cx={x(p[0])} cy={y(p[1])} r={2.0} fill="none" stroke={layer.color} strokeWidth={1} />
          ) : (
            <circle key={pi} cx={x(p[0])} cy={y(p[1])} r={2.9} fill={layer.color} />
          ))}
        </g>
      ))}
      <rect x={x(scanAz[i][0])} y={y(scanEl[i][1])} width={x(scanAz[i][1]) - x(scanAz[i][0])}
        height={y(scanEl[i][0]) - y(scanEl[i][1])} fill="none" stroke="#222" strokeWidth={1} />
      <ellipse cx={e2.cx} cy={e2.cy} rx={e2.rx} ry={e2.ry} fill="none" stroke="#000" strokeWidth={1} strokeDasharray="5,4" />
      <ellipse cx={e1.cx} cy={e1.cy} rx={e1.rx} ry={e1.ry} fill="none" stroke="#000" strokeWidth={1.1} />
      <line x1={BOX.l} x2={BOX.l + BOX.w} y1={y(biasEl[i])} y2={y(biasEl[i])} stroke="#000" strokeWidth={1} />
      <line x1={x(biasAz[i])} x2={x(biasAz[i])} y1={BOX.t} y2={bottom} stroke="#000" strokeWidth={1} />
      <rect x={BOX.l} y={BOX.t} width={BOX.w} height={BOX.h} fill="none" stroke="#000" strokeWidth={1} />
      {xTicks[i].map((t) => (
        <g key={`xt${t}`}>
          <line x1={x(t)} x2={x(t)} y1={bottom} y2={bottom + 11} stroke="#000" strokeWidth={1} />
          <text x={x(t)} y={bottom + 44} textAnchor="middle" fontFamily={FONT} fontWeight="bold" fontSize={19.5}>
            {minus(t.toFixed(tickDigits[i]))}
          </text>
        </g>
      ))}
      {yTicks[i].map((t) => (
        <g key={`yt${t}`}>
          <line x1={BOX.l - 11} x2={BOX.l} y1={y(t)} y2={y(t)} stroke="#000" strokeWidth={1} />
          <text transform={`translate(${BOX.l - 26.5},${y(t)}) rotate(-90)`} textAnchor="middle" fontFamily={FONT}
            fontWeight="bold" fontSize={19.5}>
            {minus(t.toFixed(tickDigits[i]))}
          </text>
        </g>
      ))}
      <text x={midX} y={bottom + 92.5} textAnchor="middle" fontFamily={FONT} fontWeight="bold" fontSize={20.5}>
        {xLabel}
      </text>
      <text transform={`translate(28.5,${midY}) rotate(-90)`} textAnchor="middle" fontFamily={FONT} fontWeight="bold" fontSize={20.5}>
        {yLabel}
      </text>
      <g fontFamily={FONT} fontSize={11.8}>
        <text x={BOX.l + 29.5} y={BOX.t + 24.5}>{`Bias_el: ${fmtSigned(biasEl[i])} deg`}</text>
        <text x={BOX.l + 29.5} y={BOX.t + 38.3}>{`Bias_az: ${fmtSigned(biasAz[i])} deg`}</text>
        <text x={BOX.l + 29.5} y={bottom - 31.7}>{`Width_el : ${fmtSigned(widthEl[i])} deg`}</text>
        <text x={BOX.l + 29.5} y={bottom - 18}>{`Width_az : ${fmtSigned(widthAz[i])} deg`}</text>
      </g>
    </g>
  );
}

export default function App() {
  return (
    <svg width={1182} height={1153} viewBox="0 0 1182 1153"
      style={{ position: 'absolute', left: 0, top: 0, display: 'block', background: '#fff' }}>
      <rect x={0} y={0} width={1182} height={1153} fill="#fff" />
      {[0, 1, 2, 3].map((i) => <Panel key={i} i={i} />)}
    </svg>
  );
}
